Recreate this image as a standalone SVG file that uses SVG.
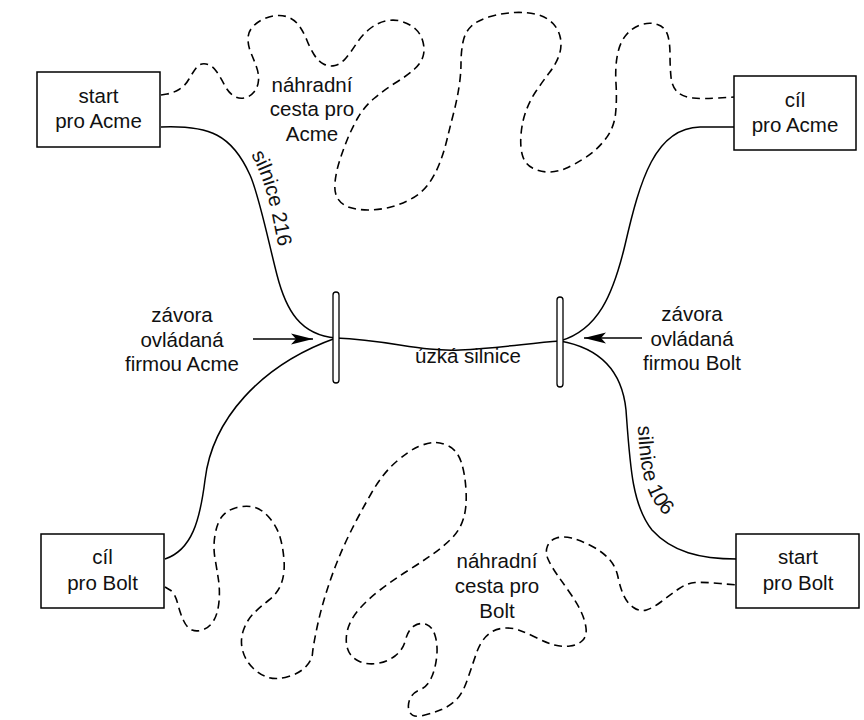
<svg xmlns="http://www.w3.org/2000/svg" width="864" height="720" viewBox="0 0 864 720">
<defs>
<style>
.box{fill:#fff;stroke:#000;stroke-width:1.5}
.t{font-family:"Liberation Sans",Arial,sans-serif;font-size:20.5px;fill:#111;text-anchor:middle}
.tp{font-family:"Liberation Sans",Arial,sans-serif;font-size:20.5px;fill:#111}
.road{fill:none;stroke:#000;stroke-width:1.5}
.alt{fill:none;stroke:#000;stroke-width:1.6;stroke-dasharray:8 5}
.gate{fill:#fff;stroke:#000;stroke-width:1.3}
.arr{stroke:#000;stroke-width:1.5;marker-end:url(#ah)}
</style>
<marker id="ah" markerWidth="24" markerHeight="14" refX="22" refY="7" orient="auto" markerUnits="userSpaceOnUse"><path d="M0,1.5 L22,7 L0,12.5 L5,7 z" fill="#000"/></marker>
<path id="p216" d="M240,139 C252,153 260,171 266,191 C272,211 275,231 280,255"/>
<path id="p106" d="M637,405 C638,440 640,470 648,490 C654,505 662,514 672,520"/>
</defs>
<rect width="864" height="720" fill="#fff"/>
<g id="connectors">
<path class="alt" d="M161,95 L167,94 Q173,93 179,89.5 Q185,86 189,79 Q193,72 196.5,67.5 Q200,63 206,64 Q212,65 216.5,71.5 Q221,78 224.5,85 Q228,92 233,95.5 Q238,99 244,98 Q250,97 254,92 Q258,87 258.5,80.5 Q259,74 256.5,67 Q254,60 251,53 Q248,46 248,39 Q248,32 252.5,27 Q257,22 263.5,19 Q270,16 277,15.5 Q284,15 290,18 Q296,21 300,27 Q304,33 307,40.5 Q310,48 314,54.5 Q318,61 323.5,64 Q329,67 335,65.5 Q341,64 346,58 Q351,52 356.5,43.5 Q362,35 369.5,29 Q377,23 385.5,21 Q394,19 402,21.5 Q410,24 415.5,29 Q421,34 423,42 Q425,50 423,56.5 Q421,63 414.5,69 Q408,75 396,82.5 Q384,90 374,98.5 Q364,107 358,117.5 Q352,128 347.5,139 Q343,150 339.5,161 Q336,172 335,182.5 Q334,193 338,199 Q342,205 350,207.5 Q358,210 368,210 Q378,210 389,207.5 Q400,205 411,199 Q422,193 428.5,184 Q435,175 439.5,163.5 Q444,152 447,139.5 Q450,127 453.5,113.5 Q457,100 459,87 Q461,74 461,63 Q461,52 463,42 Q465,32 471.5,26 Q478,20 490.5,16.5 Q503,13 515,12.5 Q527,12 537,14.5 Q547,17 553,23.5 Q559,30 560.5,38.5 Q562,47 559,55.5 Q556,64 549.5,72.5 Q543,81 536.5,90.5 Q530,100 526,111 Q522,122 521,134.5 Q520,147 522.5,155.5 Q525,164 532.5,168 Q540,172 548.5,172 Q557,172 565.5,168.5 Q574,165 585.5,157.5 Q597,150 605.5,139 Q614,128 615.5,114 Q617,100 616,83.5 Q615,67 617.5,54.5 Q620,42 626.5,34.5 Q633,27 641.5,24.5 Q650,22 657.5,24.5 Q665,27 667.5,34.5 Q670,42 670,54.5 Q670,67 671,77 Q672,87 677.5,92 Q683,97 693,98 Q703,99 718.5,98 L734,97"/>
<path class="alt" d="M165,587 L170,590 Q175,593 177.5,603 Q180,613 183.5,620.5 Q187,628 192,630 Q197,632 203.5,629.5 Q210,627 214,620 Q218,613 219,601.5 Q220,590 218.5,580 Q217,570 215,558.5 Q213,547 215,535 Q217,523 222,516.5 Q227,510 237,507.5 Q247,505 255,507.5 Q263,510 270,518.5 Q277,527 280,537 Q283,547 284,560 Q285,573 281.5,583 Q278,593 269,600 Q260,607 253.5,613.5 Q247,620 243.5,630 Q240,640 242.5,650 Q245,660 252.5,667.5 Q260,675 268.5,677.5 Q277,680 288.5,676.5 Q300,673 306,666.5 Q312,660 312.5,653.5 Q313,647 316.5,630 Q320,613 325,596.5 Q330,580 336.5,563.5 Q343,547 351.5,530 Q360,513 371.5,493 Q383,473 396.5,461.5 Q410,450 418.5,446.5 Q427,443 433.5,442.5 Q440,442 448.5,446 Q457,450 461,461.5 Q465,473 466,490 Q467,507 463.5,518.5 Q460,530 451.5,538.5 Q443,547 431.5,555 Q420,563 406.5,571.5 Q393,580 380,590 Q367,600 358.5,610 Q350,620 347.5,630 Q345,640 347.5,648.5 Q350,657 358.5,661 Q367,665 377,663.5 Q387,662 395,656 Q403,650 405.5,640 Q408,630 414,626 Q420,622 426.5,624.5 Q433,627 435.5,637 Q438,647 436.5,658.5 Q435,670 431,678.5 Q427,687 419.5,690 Q412,693 409.5,700 Q407,707 410,712.5 Q413,718 423,715.5 Q433,713 441.5,709.5 Q450,706 456.5,699.5 Q463,693 468,678 Q473,663 476.5,653 Q480,643 486,636.5 Q492,630 501,628.5 Q510,627 518.5,630 Q527,633 537,638 Q547,643 554.5,645 Q562,647 570,646 Q578,645 582.5,640.5 Q587,636 586,628 Q585,620 581,611.5 Q577,603 570,593 Q563,583 557,574.5 Q551,566 548,559 Q545,552 547.5,546 Q550,540 556.5,538 Q563,536 571.5,538 Q580,540 591.5,546 Q603,552 609.5,559.5 Q616,567 618,577 Q620,587 623.5,595 Q627,603 633.5,607.5 Q640,612 646.5,610 Q653,608 661.5,601.5 Q670,595 678.5,589 Q687,583 695,582.5 Q703,582 720,583.5 L737,585"/>
<path class="road" d="M161,127 C210,125 232,135 250,175 C259,195 268,240 277,275 C286,310 300,335 336,338"/>
<path class="road" d="M165,559 C192,550 200,520 205,480 C212,420 260,365 336,338"/>
<path class="road" d="M336,338 C390,340 420,352 460,350 C500,348 530,343 560,341"/>
<path class="road" d="M560,341 C598,330 613,295 625,245 C640,180 655,128 700,127 L734,127"/>
<path class="road" d="M560,341 C600,348 622,370 626,410 C630,465 632,505 652,530 C672,552 700,559 737,559"/>
<line class="arr" x1="253" y1="339" x2="313" y2="339"/>
<line class="arr" x1="642" y1="338" x2="584" y2="338"/>
<text class="tp"><textPath href="#p216" startOffset="19">silnice 216</textPath></text>
<text class="tp"><textPath href="#p106" startOffset="21">silnice 106</textPath></text>
<text class="t" x="468" y="363">úzká silnice</text>
</g>
<g id="gate-acme"><rect class="gate" x="333" y="292" width="6" height="91" rx="3"/></g>
<g id="gate-bolt"><rect class="gate" x="557" y="297" width="6" height="90" rx="3"/></g>
<g id="start-acme"><rect class="box" x="37" y="72" width="123" height="75"/><text class="t" x="98.5" y="103">start</text><text class="t" x="98.5" y="128">pro Acme</text></g>
<g id="cil-acme"><rect class="box" x="734" y="76" width="122" height="74"/><text class="t" x="795" y="107">cíl</text><text class="t" x="795" y="132">pro Acme</text></g>
<g id="cil-bolt"><rect class="box" x="41" y="534" width="123" height="74"/><text class="t" x="102.5" y="564">cíl</text><text class="t" x="102.5" y="590">pro Bolt</text></g>
<g id="start-bolt"><rect class="box" x="736" y="534" width="123" height="74"/><text class="t" x="798" y="564">start</text><text class="t" x="798" y="590">pro Bolt</text></g>
<g id="alt-acme-label"><text class="t" x="312" y="92">náhradní</text><text class="t" x="312" y="116">cesta pro</text><text class="t" x="312" y="141">Acme</text></g>
<g id="alt-bolt-label"><text class="t" x="497" y="568">náhradní</text><text class="t" x="497" y="593">cesta pro</text><text class="t" x="497" y="618">Bolt</text></g>
<g id="label-acme"><text class="t" x="182" y="322">závora</text><text class="t" x="182" y="347">ovládaná</text><text class="t" x="182" y="371">firmou Acme</text></g>
<g id="label-bolt"><text class="t" x="692" y="321">závora</text><text class="t" x="692" y="346">ovládaná</text><text class="t" x="692" y="370">firmou Bolt</text></g>
</svg>
